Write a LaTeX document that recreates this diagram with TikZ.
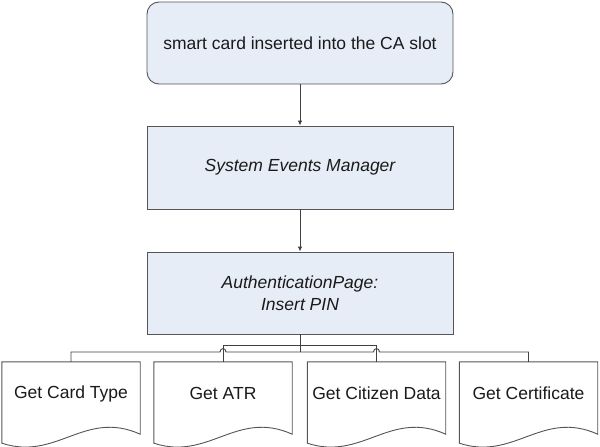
\documentclass[tikz,border=0pt]{standalone}
\usepackage{fontspec}
\setmainfont{Liberation Sans}
\usetikzlibrary{arrows.meta,calc}
\definecolor{boxfill}{HTML}{E7EDF7}
\definecolor{edgecol}{HTML}{555555}
\definecolor{linecol}{HTML}{404040}
\definecolor{txtcol}{HTML}{1A1A1A}
\newcommand\docshape[1]{%
  \draw[docline] (#1.north west) -- (#1.north east) -- ($(#1.south east)+(0,-11)$)
    .. controls ($(#1.south west)+(82.8,-36)$) and ($(#1.south west)+(55.2,16)$) ..
    ($(#1.south west)+(0,-2)$) -- cycle;}
\begin{document}
\begin{tikzpicture}[x=1pt,y=-1pt,
  font=\fontsize{17.5}{21}\selectfont, text=txtcol,
  procbox/.style={draw=edgecol, fill=boxfill, line width=0.9pt, minimum width=306pt,
    inner sep=0pt, align=center},
  docframe/.style={minimum width=138pt, minimum height=83pt, inner sep=0pt},
  docline/.style={draw=edgecol, line width=0.9pt, fill=white},
  doctext/.style={inner sep=0pt},
  conn/.style={draw=linecol, line width=0.9pt},
  arr/.style={conn, -{Latex[length=5pt,width=4.5pt]}}]
\useasboundingbox (0,0) rectangle (600,447);

\node[procbox, rounded corners=12pt, minimum height=82pt] (b1) at (300,43)
  {smart card inserted into the CA slot};
\node[procbox, minimum height=83pt] (b2) at (300,167.5) {\itshape System Events Manager};
\node[procbox, minimum height=82pt] (b3) at (300,293)
  {\itshape AuthenticationPage:\\[1pt]\itshape Insert PIN};

\draw[arr] (b1) -- (b2);
\draw[arr] (b2) -- (b3);

\node[docframe] (d1) at (71,403.5) {};
\node[docframe] (d2) at (223,403.5) {};
\node[docframe] (d3) at (376.5,403.5) {};
\node[docframe] (d4) at (528.5,403.5) {};
\docshape{d1}\docshape{d2}\docshape{d3}\docshape{d4}
\node[doctext] (t1) at ($(d1.center)+(0,-10)$) {Get Card Type};
\node[doctext] (t2) at ($(d2.center)+(0,-10)$) {Get ATR};
\node[doctext] (t3) at ($(d3.center)+(0,-10)$) {Get Citizen Data};
\node[doctext] (t4) at ($(d4.center)+(0,-10)$) {Get Certificate};

\coordinate (j) at (300,352);
\coordinate (k) at (300,345);
\draw[conn] (b3.south) -- (j);
\draw[conn] (d2.north) -- (d2.north |- k) -- (d3.north |- k) -- (d3.north);
\draw[conn] (d1.north) -- (d1.north |- j)
  -- ($(d2.north |- j)+(-3,0)$) .. controls ($(d2.north |- j)+(-3,-4.5)$) and ($(d2.north |- j)+(3,-4.5)$) .. ($(d2.north |- j)+(3,0)$)
  -- ($(d3.north |- j)+(-3,0)$) .. controls ($(d3.north |- j)+(-3,-4.5)$) and ($(d3.north |- j)+(3,-4.5)$) .. ($(d3.north |- j)+(3,0)$)
  -- (d4.north |- j) -- (d4.north);
\end{tikzpicture}
\end{document}
